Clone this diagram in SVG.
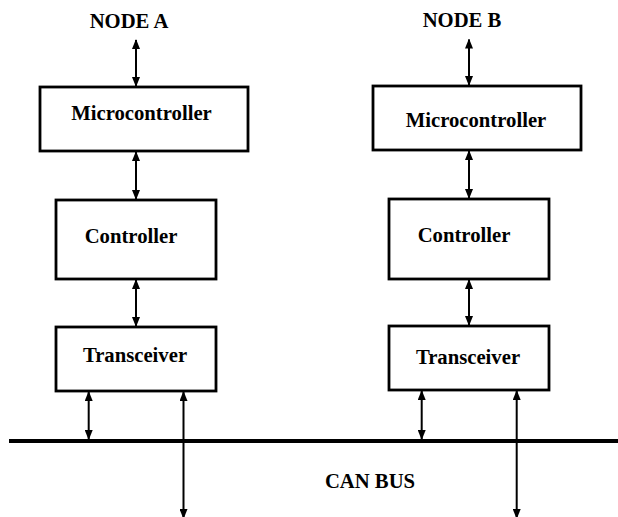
<svg xmlns="http://www.w3.org/2000/svg" width="618" height="517" viewBox="0 0 618 517">
<style>
.box{fill:#fff;stroke:#000;stroke-width:2.8}
.lbl{font-family:"Liberation Serif","Times New Roman",serif;font-weight:bold;font-size:20.7px;fill:#000;text-anchor:middle}
.arr{stroke:#000;stroke-width:2;fill:none;marker-start:url(#ah);marker-end:url(#ah)}
.bus{stroke:#000;stroke-width:4}
</style>
<defs>
<marker id="ah" markerUnits="userSpaceOnUse" markerWidth="10" markerHeight="8" refX="9" refY="4" orient="auto-start-reverse" viewBox="0 0 10 8">
<path d="M0,0 L10,4 L0,8 z" fill="#000"/>
</marker>
</defs>
<rect width="618" height="517" fill="#fff"/>
<g id="bus">
<line class="bus" x1="9" y1="441" x2="618" y2="441"/>
<text class="lbl" x="370" y="488">CAN BUS</text>
</g>
<g id="nodeA-label"><text class="lbl" x="129" y="28">NODE A</text></g>
<g id="nodeB-label"><text class="lbl" x="462" y="27">NODE B</text></g>
<g id="micro-a"><rect class="box" x="40" y="87" width="208" height="64"/><text class="lbl" x="141.5" y="120">Microcontroller</text></g>
<g id="ctrl-a"><rect class="box" x="56" y="200" width="160" height="79"/><text class="lbl" x="131" y="243">Controller</text></g>
<g id="xcvr-a"><rect class="box" x="56" y="327" width="160" height="64"/><text class="lbl" x="135" y="362">Transceiver</text></g>
<g id="micro-b"><rect class="box" x="373" y="86" width="208" height="64"/><text class="lbl" x="476" y="127">Microcontroller</text></g>
<g id="ctrl-b"><rect class="box" x="389" y="199" width="160" height="80"/><text class="lbl" x="464" y="242">Controller</text></g>
<g id="xcvr-b"><rect class="box" x="389" y="326" width="160" height="64"/><text class="lbl" x="468" y="364">Transceiver</text></g>
<g id="connectors">
<line class="arr" x1="136" y1="40" x2="136" y2="86"/>
<line class="arr" x1="136" y1="152" x2="136" y2="199"/>
<line class="arr" x1="136" y1="280" x2="136" y2="326"/>
<line class="arr" x1="88.7" y1="392" x2="88.7" y2="439"/>
<line class="arr" x1="183.5" y1="392" x2="183.5" y2="518"/>
<line class="arr" x1="469" y1="39.5" x2="469" y2="85"/>
<line class="arr" x1="469" y1="151" x2="469" y2="198"/>
<line class="arr" x1="469" y1="280" x2="469" y2="325"/>
<line class="arr" x1="421.7" y1="391" x2="421.7" y2="439"/>
<line class="arr" x1="516.7" y1="391" x2="516.7" y2="518"/>
</g>
</svg>
